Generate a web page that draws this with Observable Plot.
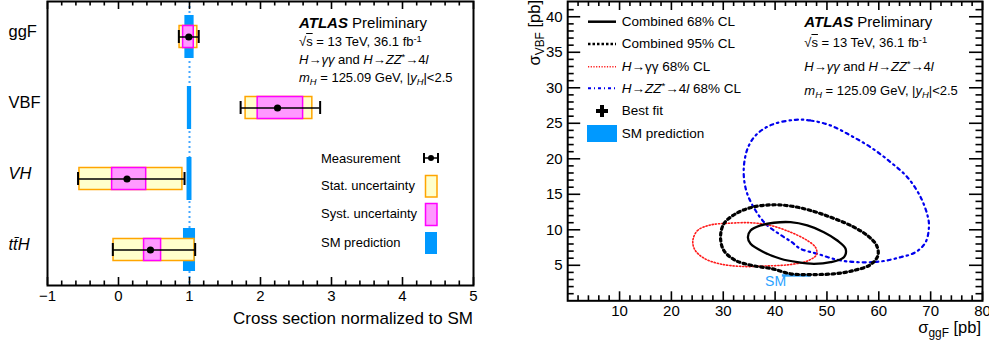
<!DOCTYPE html>
<html><head><meta charset="utf-8">
<script src="https://cdn.jsdelivr.net/npm/d3@7"></script>
<script src="https://cdn.jsdelivr.net/npm/@observablehq/plot@0.6"></script>
<style>
body{margin:0;background:#fff;font-family:"Liberation Sans",Arial,sans-serif;}
#wrap{position:relative;width:989px;height:343px;overflow:hidden;background:#fff;}
.abs{position:absolute;white-space:nowrap;color:#000;line-height:1;}
.abs sub{font-size:72%;vertical-align:-0.3em;line-height:0;}
.abs sup{font-size:72%;vertical-align:0.45em;line-height:0;}
#p1,#p2{position:absolute;top:0;}
#p1{left:0;width:495px;height:343px;}
#p2{left:495px;width:494px;height:343px;}
#p1 svg,#p2 svg{overflow:visible;max-width:none;}
#ov{position:absolute;left:0;top:0;pointer-events:none;}
</style></head>
<body><div id="wrap"><div id="p1"></div><div id="p2"></div></div>
<script>
// ---------- Left panel data ----------
const categories = ["ggF", "VBF", "VH", "ttH"];
const rowLabels = ["ggF", "VBF", "VH", "tt\u0304H"];
const rowItalic = [false, false, true, true];
const central = [0.99, 2.24, 0.12, 0.45];
const totalLo = [0.85, 1.72, -0.57, -0.08];
const totalHi = [1.13, 2.84, 0.93, 1.08];
const statLo = [0.86, 1.79, -0.55, -0.07];
const statHi = [1.11, 2.73, 0.90, 1.07];
const systLo = [0.91, 1.96, -0.09, 0.36];
const systHi = [1.06, 2.60, 0.39, 0.60];
const smLo = [0.935, 0.97, 0.965, 0.915];
const smHi = [1.065, 1.03, 1.035, 1.085];
const smRatio = [1];
const leftTicks = [-1, 0, 1, 2, 3, 4, 5];

// ---------- Right panel data (contour points) ----------
const comb68X = [34.75, 35.27, 37.20, 39.77, 42.99, 46.21, 49.41, 52.00, 53.60, 53.27, 50.70, 47.48, 44.28, 41.06, 37.84, 35.27];
const comb68Y = [8.96, 9.90, 10.61, 10.99, 11.07, 10.61, 9.66, 8.49, 7.32, 6.14, 5.44, 5.21, 5.44, 5.92, 6.85, 8.03];
const comb95X = [29.48, 30.12, 32.38, 35.60, 39.46, 42.99, 46.85, 50.70, 54.56, 57.78, 59.58, 59.83, 58.42, 55.20, 51.34, 46.85, 42.99, 39.46, 35.60, 32.38, 30.12];
const comb95Y = [8.96, 10.85, 12.25, 13.18, 13.52, 13.35, 12.72, 11.77, 10.61, 9.20, 7.79, 6.38, 5.11, 4.27, 3.80, 3.70, 3.80, 4.51, 4.97, 5.68, 7.08];
const yyX = [24.14, 25.04, 27.55, 31.41, 35.27, 39.13, 42.99, 46.21, 47.81, 48.00, 46.46, 42.99, 38.16, 33.92, 29.48, 26.20, 24.49];
const yyY = [8.49, 9.90, 10.68, 10.93, 10.99, 10.61, 9.66, 8.49, 7.51, 6.52, 5.68, 5.11, 4.90, 4.83, 5.18, 6.03, 7.23];
const zzX = [43.95, 46.85, 50.70, 54.56, 58.42, 62.28, 65.50, 68.07, 69.48, 69.67, 69.03, 67.10, 64.21, 60.35, 55.86, 52.00, 48.14, 44.92, 43.14, 40.73, 38.16, 36.23, 34.63, 33.98, 34.11, 34.94, 36.56, 39.46];
const zzY = [25.49, 25.39, 24.69, 23.28, 21.63, 19.52, 17.41, 14.59, 11.77, 10.37, 8.25, 6.85, 6.14, 5.54, 5.44, 5.77, 6.62, 7.32, 8.30, 9.44, 10.85, 12.72, 15.07, 17.41, 19.76, 21.87, 23.52, 24.83];
const fitNames = ["yy", "zz", "comb"];
const fitGgF = [35.91, 49.93, 43.95];
const fitVBF = [7.41, 13.89, 7.89];
const smGgFRange = [41.4, 47.0];
const smVBF = [3.57];
const smLabelPos = [40.1, 2.65];
const rightXTicks = [10, 20, 30, 40, 50, 60, 70, 80];
const rightYTicks = [5, 10, 15, 20, 25, 30, 35, 40];

// ---------- styles ----------
const FONT = '"Liberation Sans", Arial, sans-serif';
const SMBLUE = "#0099ff";
const fitColor = {yy: "#ff1a1a", zz: "#0000ee", comb: "#000000"};
const intFmt = d => (d < 0 ? "\u2212" + (-d) : String(d));

// ---------- Left plot ----------
const rows = categories.map((c, i) => ({
  cat: c, label: rowLabels[i], italic: rowItalic[i], c: central[i],
  tLo: totalLo[i], tHi: totalHi[i], sLo: statLo[i], sHi: statHi[i],
  yLo: systLo[i], yHi: systHi[i], mLo: smLo[i], mHi: smHi[i]
}));
const L = {w: 495, h: 343, ml: 47, mr: 22, mt: 1, mb: 58};
const fh1 = L.h - L.mt - L.mb;
const minorL = d3.range(-1, 5.0001, 0.2).map(v => +v.toFixed(2)).filter(v => Math.abs(v - Math.round(v)) > 1e-6);

const left = Plot.plot({
  width: L.w, height: L.h,
  marginLeft: L.ml, marginRight: L.mr, marginTop: L.mt, marginBottom: L.mb,
  style: {fontFamily: FONT, fontSize: "15px", color: "black", background: "white"},
  x: {domain: [-1, 5], ticks: leftTicks, tickFormat: intFmt, tickSize: 0, tickPadding: 5, label: null},
  y: {domain: categories, padding: 0, axis: null},
  marks: [
    Plot.ruleX(smRatio, {x: d => d, stroke: "#45a8ff", strokeWidth: 2, strokeDasharray: "2,3"}),
    Plot.barX(rows, {y: "cat", x1: "mLo", x2: "mHi", fill: SMBLUE, insetTop: 14, insetBottom: 14}),
    Plot.barX(rows, {y: "cat", x1: "sLo", x2: "sHi", fill: "#ffffcc", stroke: "#ffa500", strokeWidth: 1.5, insetTop: 24.5, insetBottom: 24.5}),
    Plot.barX(rows, {y: "cat", x1: "yLo", x2: "yHi", fill: "#ff99ff", stroke: "#ff00ff", strokeWidth: 1.5, insetTop: 24.5, insetBottom: 24.5}),
    Plot.ruleY(rows, {y: "cat", x1: "tLo", x2: "tHi", stroke: "black", strokeWidth: 1.5}),
    Plot.tickX(rows, {y: "cat", x: "tLo", stroke: "black", strokeWidth: 2, insetTop: 29, insetBottom: 29}),
    Plot.tickX(rows, {y: "cat", x: "tHi", stroke: "black", strokeWidth: 2, insetTop: 29, insetBottom: 29}),
    Plot.dot(rows, {y: "cat", x: "c", r: 3.6, fill: "black"}),
    Plot.text(rows.filter(d => !d.italic), {y: "cat", text: "label", frameAnchor: "left", textAnchor: "start", dx: -39, dy: -5, fontSize: 16.5}),
    Plot.text(rows.filter(d => d.italic), {y: "cat", text: "label", frameAnchor: "left", textAnchor: "start", dx: -39, dy: -5, fontSize: 16.5, fontStyle: "italic"}),
    // inward ticks
    Plot.tickX(leftTicks, {x: d => d, stroke: "black", strokeWidth: 1.6, insetTop: fh1 - 8}),
    Plot.tickX(minorL, {x: d => d, stroke: "black", strokeWidth: 1.6, insetTop: fh1 - 4.5}),
    Plot.tickX(leftTicks, {x: d => d, stroke: "black", strokeWidth: 1.6, insetBottom: fh1 - 8}),
    Plot.tickX(minorL, {x: d => d, stroke: "black", strokeWidth: 1.6, insetBottom: fh1 - 4.5}),
    Plot.frame({stroke: "black", strokeWidth: 2})
  ]
});
document.getElementById("p1").appendChild(left);

// ---------- Right plot ----------
const R = {w: 494, h: 343, ml: 72.2, mr: 7, mt: 1, mb: 42.7};
const fh2 = R.h - R.mt - R.mb;
const fw2 = R.w - R.ml - R.mr;
const zip = (xs, ys) => xs.map((x, i) => ({x, y: ys[i]}));
const xMinor = d3.range(2, 80, 2).filter(v => v % 10 !== 0);
const yMinor = d3.range(1, 42, 1).filter(v => v % 5 !== 0);
const fits = fitNames.map((n, i) => ({name: n, x: fitGgF[i], y: fitVBF[i]}));

const right = Plot.plot({
  width: R.w, height: R.h,
  marginLeft: R.ml, marginRight: R.mr, marginTop: R.mt, marginBottom: R.mb,
  style: {fontFamily: FONT, fontSize: "15px", color: "black", background: "white"},
  x: {domain: [0, 80], ticks: rightXTicks, tickFormat: intFmt, tickSize: 0, tickPadding: 5, label: null},
  y: {domain: [0, 42.15], ticks: rightYTicks, tickFormat: intFmt, tickSize: 0, tickPadding: 5, label: null},
  marks: [
    Plot.ruleY(smVBF, {y: d => d, x1: smGgFRange[0], x2: smGgFRange[1], stroke: "#33a6ff", strokeWidth: 2.5}),
    Plot.text([smLabelPos], {x: d => d[0], y: d => d[1], text: () => "SM", fill: "#2aa2ff", fontSize: 14}),
    Plot.line(zip(zzX, zzY), {x: "x", y: "y", curve: "catmull-rom-closed", stroke: fitColor.zz, strokeWidth: 2.2, strokeDasharray: "3,4,1.5,4"}),
    Plot.line(zip(yyX, yyY), {x: "x", y: "y", curve: "catmull-rom-closed", stroke: fitColor.yy, strokeWidth: 1.6, strokeDasharray: "1.2,2"}),
    Plot.line(zip(comb95X, comb95Y), {x: "x", y: "y", curve: "catmull-rom-closed", stroke: "black", strokeWidth: 3.2, strokeDasharray: "2.6,3.4"}),
    Plot.line(zip(comb68X, comb68Y), {x: "x", y: "y", curve: "catmull-rom-closed", stroke: "black", strokeWidth: 2.3}),
    Plot.dot(fits, {x: "x", y: "y", symbol: "plus", r: 5, fill: d => fitColor[d.name], stroke: "none"}),
    // inward ticks
    Plot.tickX(rightXTicks, {x: d => d, stroke: "black", strokeWidth: 1.6, insetTop: fh2 - 9}),
    Plot.tickX(xMinor, {x: d => d, stroke: "black", strokeWidth: 1.6, insetTop: fh2 - 5}),
    Plot.tickX(rightXTicks, {x: d => d, stroke: "black", strokeWidth: 1.6, insetBottom: fh2 - 9}),
    Plot.tickX(xMinor, {x: d => d, stroke: "black", strokeWidth: 1.6, insetBottom: fh2 - 5}),
    Plot.tickY(rightYTicks, {y: d => d, stroke: "black", strokeWidth: 1.6, insetRight: fw2 - 13}),
    Plot.tickY(yMinor, {y: d => d, stroke: "black", strokeWidth: 1.6, insetRight: fw2 - 6.5}),
    Plot.tickY(rightYTicks, {y: d => d, stroke: "black", strokeWidth: 1.6, insetLeft: fw2 - 13}),
    Plot.tickY(yMinor, {y: d => d, stroke: "black", strokeWidth: 1.6, insetLeft: fw2 - 6.5}),
    Plot.frame({stroke: "black", strokeWidth: 2})
  ]
});
document.getElementById("p2").appendChild(right);

// ---------- Text annotations & legends ----------
const wrap = document.getElementById("wrap");
function addText(html, left, top, size, extra = "") {
  const d = document.createElement("div");
  d.className = "abs";
  d.style.cssText = `left:${left}px;top:${top}px;font-size:${size}px;${extra}`;
  d.innerHTML = html;
  wrap.appendChild(d);
  return d;
}
const atlas = [
  '<b><i>ATLAS</i></b> Preliminary',
  '\u221A<span style="text-decoration:overline">s</span> = 13 TeV, 36.1 fb<sup>-1</sup>',
  '<i>H</i>\u2192<i>\u03B3\u03B3</i> and <i>H</i>\u2192<i>ZZ</i><sup>*</sup>\u21924<i>l</i>',
  '<i>m</i><sub><i>H</i></sub> = 125.09 GeV, |<i>y</i><sub><i>H</i></sub>|&lt;2.5'
];
const atlasSize = [15, 13, 13, 13];
const atlasYL = [22, 41.7, 59.5, 77.5];
const atlasYR = [21.5, 42, 66.5, 90];
atlas.forEach((t, i) => {
  addText(t, 299, atlasYL[i] - atlasSize[i] * 0.5, atlasSize[i]);
  addText(t, 804.3, atlasYR[i] - atlasSize[i] * 0.5, atlasSize[i]);
});
// left legend
const legL = ["Measurement", "Stat. uncertainty", "Syst. uncertainty", "SM prediction"];
const legLY = [158, 185, 213, 242];
legL.forEach((t, i) => addText(t, 321, legLY[i] - 6.5, 13));
// right legend
const legR = ["Combined 68% CL", "Combined 95% CL", "<i>H</i>\u2192\u03B3\u03B3 68% CL", "<i>H</i>\u2192<i>ZZ</i><sup>*</sup>\u21924<i>l</i> 68% CL", "Best fit", "SM prediction"];
const legRY = [21.7, 44, 66.7, 88.3, 111, 133.3];
legR.forEach((t, i) => addText(t, 621.7, legRY[i] - 6.75, 13.5));
// axis titles
addText("Cross section normalized to SM", 0, 309.5, 17, "width:473px;text-align:right;");
addText("\u03C3<sub>ggF</sub> [pb]", 0, 319, 16.5, "width:981px;text-align:right;");
addText("\u03C3<sub>VBF</sub> [pb]", 526, 80, 16.5, "width:80px;text-align:right;transform-origin:0 0;transform:rotate(-90deg);");

// legend swatches
const ns = "http://www.w3.org/2000/svg";
const ov = document.createElementNS(ns, "svg");
ov.setAttribute("id", "ov"); ov.setAttribute("width", 989); ov.setAttribute("height", 343);
ov.innerHTML = `
  <line x1="423.5" x2="438.5" y1="158" y2="158" stroke="black" stroke-width="1.5"/>
  <line x1="424" x2="424" y1="153" y2="163" stroke="black" stroke-width="2"/>
  <line x1="438" x2="438" y1="153" y2="163" stroke="black" stroke-width="2"/>
  <circle cx="431" cy="158" r="3" fill="black"/>
  <rect x="425.5" y="175.5" width="11.5" height="21.5" fill="#ffffcc" stroke="#ffa500" stroke-width="1.5"/>
  <rect x="425.5" y="203.5" width="11.5" height="22" fill="#ff99ff" stroke="#ff00ff" stroke-width="1.5"/>
  <rect x="425" y="232" width="12" height="22" fill="${SMBLUE}"/>
  <line x1="588" x2="616" y1="21.7" y2="21.7" stroke="black" stroke-width="2.5"/>
  <line x1="588" x2="616" y1="44" y2="44" stroke="black" stroke-width="2.5" stroke-dasharray="2.5,2"/>
  <line x1="588" x2="616" y1="66.7" y2="66.7" stroke="#ff1a1a" stroke-width="1.5" stroke-dasharray="1.2,1.5"/>
  <line x1="588" x2="616" y1="88.3" y2="88.3" stroke="#0000ee" stroke-width="2" stroke-dasharray="3,3,1,3"/>
  <rect x="596" y="109" width="12" height="4" fill="black"/>
  <rect x="600" y="105" width="4" height="12" fill="black"/>
  <rect x="587" y="125" width="30" height="17" fill="${SMBLUE}"/>
`;
wrap.appendChild(ov);
</script>
</body></html>
